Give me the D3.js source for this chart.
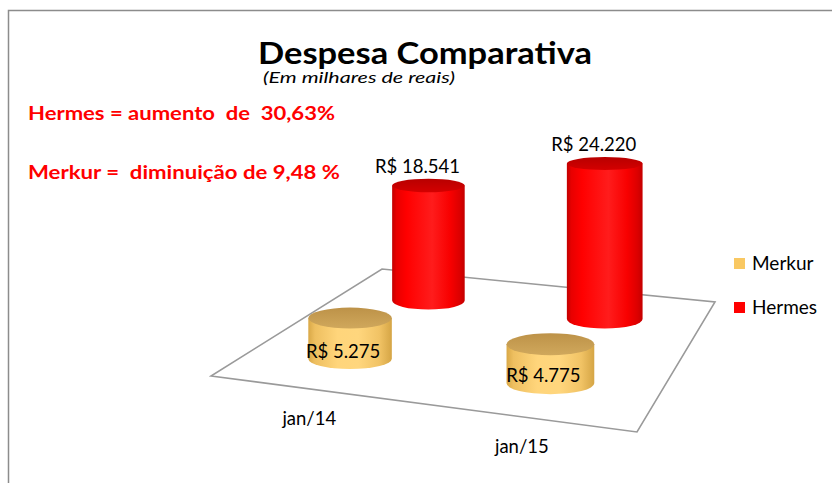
<!DOCTYPE html>
<html><head><meta charset="utf-8">
<script src="https://cdn.jsdelivr.net/npm/d3@7"></script>
<style>body{margin:0;background:#fff} svg{display:block} text{font-family:Lato,"Open Sans",sans-serif}</style>
</head><body><svg id="c" width="832" height="483"></svg>
<script>
// ---- data ----
const categories = ["jan/14", "jan/15"];
const seriesNames = ["Merkur", "Hermes"];           // front row, back row
const merkurValues = [5275, 4775];
const hermesValues = [18541, 24220];
const valueDomain = [0, 30000];
const titleText = "Despesa Comparativa";
const subtitleText = "(Em milhares de reais)";
const noteTexts = ["Hermes = aumento  de  30,63%", "Merkur =  diminuição de 9,48 %"];

const seriesValues = {Merkur: merkurValues, Hermes: hermesValues};
const seriesColor = {Merkur: "#f9c862", Hermes: "#ff0000"};
const labelPlace = {Merkur: "base", Hermes: "top"};

const svg = d3.select("#c");
const locale = d3.formatLocale({decimal: ",", thousands: ".", grouping: [3], currency: ["R$ ", ""]});
const fmt = locale.format("$,");

// ---- perspective floor (plot area corners) ----
const FL = [211, 376], FR = [637, 432], BR = [715, 302], BL = [382, 269];
function squareToQuad(p0, p1, p2, p3) {
  const dx1 = p1[0]-p2[0], dy1 = p1[1]-p2[1], dx2 = p3[0]-p2[0], dy2 = p3[1]-p2[1];
  const dx3 = p0[0]-p1[0]+p2[0]-p3[0], dy3 = p0[1]-p1[1]+p2[1]-p3[1];
  const den = dx1*dy2 - dx2*dy1;
  const g = (dx3*dy2 - dx2*dy3)/den, h = (dx1*dy3 - dx3*dy1)/den;
  const a = p1[0]-p0[0]+g*p1[0], b = p3[0]-p0[0]+h*p3[0], c = p0[0];
  const d = p1[1]-p0[1]+g*p1[1], e = p3[1]-p0[1]+h*p3[1], f = p0[1];
  return (u, v, lift = 0) => {
    const w = g*u + h*v + 1;
    return {x: (a*u + b*v + c)/w, y: (d*u + e*v + f - lift)/w, w};
  };
}
const project = squareToQuad(FL, FR, BR, BL);

// ---- scales ----
const xBand = d3.scaleBand().domain(categories).range([0, 1]);
const zBand = d3.scaleBand().domain(seriesNames).range([-0.04, 1.0]);
const hScale = d3.scaleLinear().domain(valueDomain).range([4.3, 4.3 + 216]);
const tilt = d3.scaleLinear().domain([160, 300]).range([0.17, 0.25]).clamp(true);
const radius = 43.5;

// ---- frame ----
svg.append("path").attr("d", "M8.5,483 L8.5,10.5 L832,10.5")
  .attr("fill", "none").attr("stroke", "#8c8c8c").attr("stroke-width", 1.5);

// ---- gradients ----
const defs = svg.append("defs");
function hGrad(id, stops) {
  const g = defs.append("linearGradient").attr("id", id).attr("x1", 0).attr("x2", 1).attr("y1", 0).attr("y2", 0);
  stops.forEach(s => g.append("stop").attr("offset", s[0]).attr("stop-color", s[1]));
}
function vGrad(id, stops) {
  const g = defs.append("linearGradient").attr("id", id).attr("x1", 0).attr("x2", 0).attr("y1", 0).attr("y2", 1);
  stops.forEach(s => g.append("stop").attr("offset", s[0]).attr("stop-color", s[1]));
}
hGrad("body-Hermes", [[0,"#c20000"],[0.06,"#e80000"],[0.2,"#ff0000"],[0.55,"#ff1c1c"],[0.8,"#f80000"],[0.93,"#dc0000"],[1,"#c40000"]]);
vGrad("top-Hermes", [[0,"#b80000"],[1,"#d40000"]]);
hGrad("body-Merkur", [[0,"#d9a847"],[0.08,"#eebf60"],[0.35,"#ffd57b"],[0.6,"#ffd67d"],[0.85,"#f1c365"],[1,"#d5a545"]]);
vGrad("top-Merkur", [[0,"#bd9248"],[1,"#d0a85c"]]);

// ---- floor ----
const corners = [[0,0],[1,0],[1,1],[0,1]].map(([u,v]) => project(u, v));
svg.append("path")
  .attr("d", "M" + corners.map(p => p.x.toFixed(1) + "," + p.y.toFixed(1)).join("L") + "Z")
  .attr("fill", "#fff").attr("stroke", "#9a9a9a").attr("stroke-width", 1.6);

// ---- cylinders (back row first) ----
const cyl = [];
["Hermes", "Merkur"].forEach(s => {
  categories.forEach((c, i) => {
    const u = xBand(c) + xBand.bandwidth()/2, v = zBand(s) + zBand.bandwidth()/2;
    const base = project(u, v);
    const value = seriesValues[s][i];
    const hgt = hScale(value) / base.w;
    const rx = radius / base.w;
    const ty = base.y - hgt;
    cyl.push({s, c, value, bx: base.x, by: base.y, ty, rx, ryB: rx*tilt(base.y), ryT: rx*tilt(ty)});
  });
});
const g = svg.append("g");
cyl.forEach(d => {
  const L = d.bx - d.rx, R = d.bx + d.rx;
  g.append("path")
    .attr("d", `M${L},${d.ty} L${L},${d.by} A${d.rx},${d.ryB} 0 0 0 ${R},${d.by} L${R},${d.ty} Z`)
    .attr("fill", `url(#body-${d.s})`);
  g.append("ellipse").attr("cx", d.bx).attr("cy", d.ty).attr("rx", d.rx).attr("ry", d.ryT)
    .attr("fill", `url(#top-${d.s})`);
});

// ---- data labels ----
cyl.forEach(d => {
  const top = labelPlace[d.s] === "top";
  svg.append("text")
    .attr("x", d.bx - (top ? 11 : 7))
    .attr("y", top ? d.ty - d.ryT - 6 : d.by - 1)
    .attr("text-anchor", "middle").attr("font-size", 18.5).attr("fill", "#000")
    .text(fmt(d.value));
});

// ---- category labels ----
categories.forEach(c => {
  const p = project(xBand(c) + xBand.bandwidth()/2, 0);
  svg.append("text").attr("x", p.x).attr("y", p.y + 36)
    .attr("text-anchor", "middle").attr("font-size", 18.5).attr("fill", "#000").text(c);
});

// ---- titles ----
svg.append("text").attr("x", 258).attr("y", 64).attr("font-size", 31).attr("font-weight", 700)
  .attr("textLength", 334).attr("lengthAdjust", "spacingAndGlyphs").text(titleText);
svg.append("text").attr("x", 263).attr("y", 83).attr("font-size", 16).attr("font-style", "italic")
  .attr("textLength", 192).attr("lengthAdjust", "spacingAndGlyphs").text(subtitleText);
const noteY = [120, 179], noteW = [307, 312];
noteTexts.forEach((t, i) => {
  svg.append("text").attr("x", 28).attr("y", noteY[i]).attr("font-size", 19).attr("font-weight", 700)
    .attr("fill", "#ff0000").style("white-space", "pre")
    .attr("textLength", noteW[i]).attr("lengthAdjust", "spacingAndGlyphs").text(t);
});

// ---- legend ----
const legendY = {Merkur: 258, Hermes: 302};
seriesNames.forEach(s => {
  svg.append("rect").attr("x", 734).attr("y", legendY[s]).attr("width", 11).attr("height", 11).attr("fill", seriesColor[s]);
  svg.append("text").attr("x", 752).attr("y", legendY[s] + 11.5).attr("font-size", 19).attr("fill", "#000").text(s);
});
</script></body></html>
